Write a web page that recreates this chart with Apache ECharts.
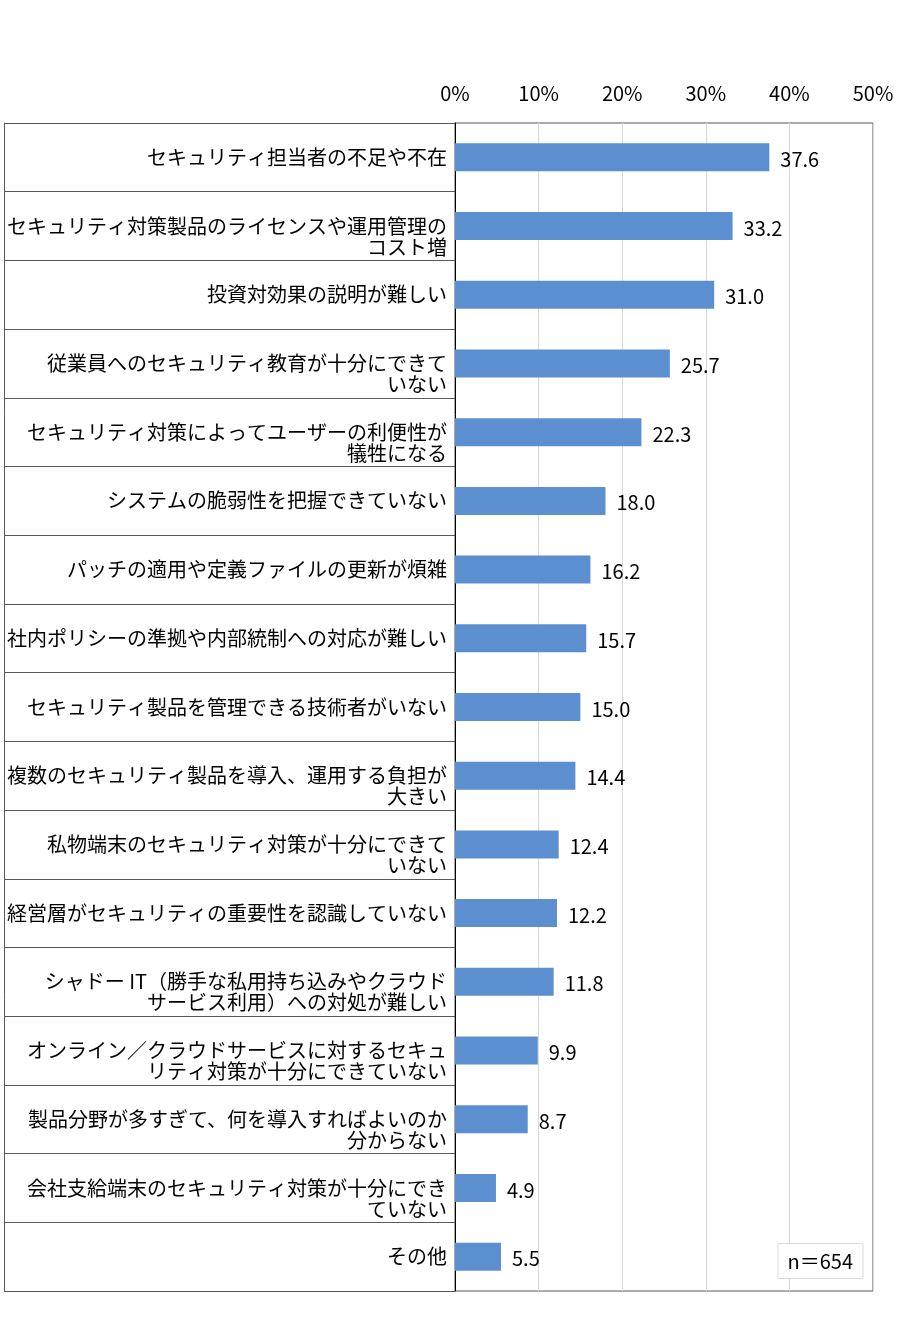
<!DOCTYPE html>
<html>
<head>
<meta charset="utf-8">
<script src="https://cdn.jsdelivr.net/npm/echarts@6/dist/echarts.min.js"></script>
<style>
html,body{margin:0;padding:0;background:#fff;}
#chart{width:900px;height:1340px;}
</style>
</head>
<body>
<div id="chart"></div>
<script>
const categories = [
  'セキュリティ担当者の不足や不在',
  'セキュリティ対策製品のライセンスや運用管理の\nコスト増',
  '投資対効果の説明が難しい',
  '従業員へのセキュリティ教育が十分にできて\nいない',
  'セキュリティ対策によってユーザーの利便性が\n犠牲になる',
  'システムの脆弱性を把握できていない',
  'パッチの適用や定義ファイルの更新が煩雑',
  '社内ポリシーの準拠や内部統制への対応が難しい',
  'セキュリティ製品を管理できる技術者がいない',
  '複数のセキュリティ製品を導入、運用する負担が\n大きい',
  '私物端末のセキュリティ対策が十分にできて\nいない',
  '経営層がセキュリティの重要性を認識していない',
  'シャドー IT（勝手な私用持ち込みやクラウド\nサービス利用）への対処が難しい',
  'オンライン／クラウドサービスに対するセキュ\nリティ対策が十分にできていない',
  '製品分野が多すぎて、何を導入すればよいのか\n分からない',
  '会社支給端末のセキュリティ対策が十分にでき\nていない',
  'その他'
];
const values = [37.6, 33.2, 31.0, 25.7, 22.3, 18.0, 16.2, 15.7, 15.0, 14.4, 12.4, 12.2, 11.8, 9.9, 8.7, 4.9, 5.5];
const xTicks = {min: 0, max: 50, interval: 10};
const sampleNote = 'n＝654';

const FONT = '"Noto Sans CJK JP", "Noto Sans", sans-serif';
const chart = echarts.init(document.getElementById('chart'));
chart.setOption({
  animation: false,
  backgroundColor: '#fff',
  textStyle: {fontFamily: FONT},
  title: {
    text: sampleNote,
    right: 37,
    bottom: 61,
    padding: [7, 10, 7, 10],
    borderColor: '#d9d9d9',
    borderWidth: 1,
    backgroundColor: '#fff',
    textStyle: {fontFamily: FONT, fontSize: 20, fontWeight: 'normal', color: '#000', lineHeight: 22}
  },
  grid: {
    left: 455, right: 27, top: 123, bottom: 49,
    show: true, borderColor: '#595959', borderWidth: 1, backgroundColor: 'transparent'
  },
  xAxis: {
    type: 'value',
    position: 'top',
    min: xTicks.min, max: xTicks.max, interval: xTicks.interval,
    axisLine: {show: false},
    axisTick: {show: false},
    axisLabel: {formatter: '{value}%', fontSize: 20, color: '#000', margin: 20, fontFamily: FONT},
    splitLine: {show: true, lineStyle: {color: '#d9d9d9', width: 1}}
  },
  yAxis: [
    {
      type: 'category',
      inverse: true,
      data: categories,
      axisLine: {show: true, lineStyle: {color: '#000', width: 1}},
      axisTick: {show: true, length: 451, interval: 0, lineStyle: {color: '#595959', width: 1}},
      axisLabel: {
        interval: 0, fontSize: 20, lineHeight: 21, color: '#000', margin: 8, fontFamily: FONT,
        formatter: v => v.indexOf('\n') >= 0 ? '\n' + v : v
      },
      splitLine: {show: false}
    },
    {
      type: 'category',
      inverse: true,
      data: categories,
      position: 'left',
      offset: 451,
      axisLine: {show: true, lineStyle: {color: '#595959', width: 1}},
      axisTick: {show: false},
      axisLabel: {show: false},
      splitLine: {show: false}
    }
  ],
  series: [{
    type: 'bar',
    yAxisIndex: 0,
    data: values,
    barWidth: 28,
    itemStyle: {color: '#5B8FD0'},
    label: {
      show: true, position: 'right', distance: 11, offset: [0, 2],
      fontSize: 20, color: '#000', fontFamily: FONT,
      formatter: p => p.value.toFixed(1)
    }
  }]
});
</script>
</body>
</html>
